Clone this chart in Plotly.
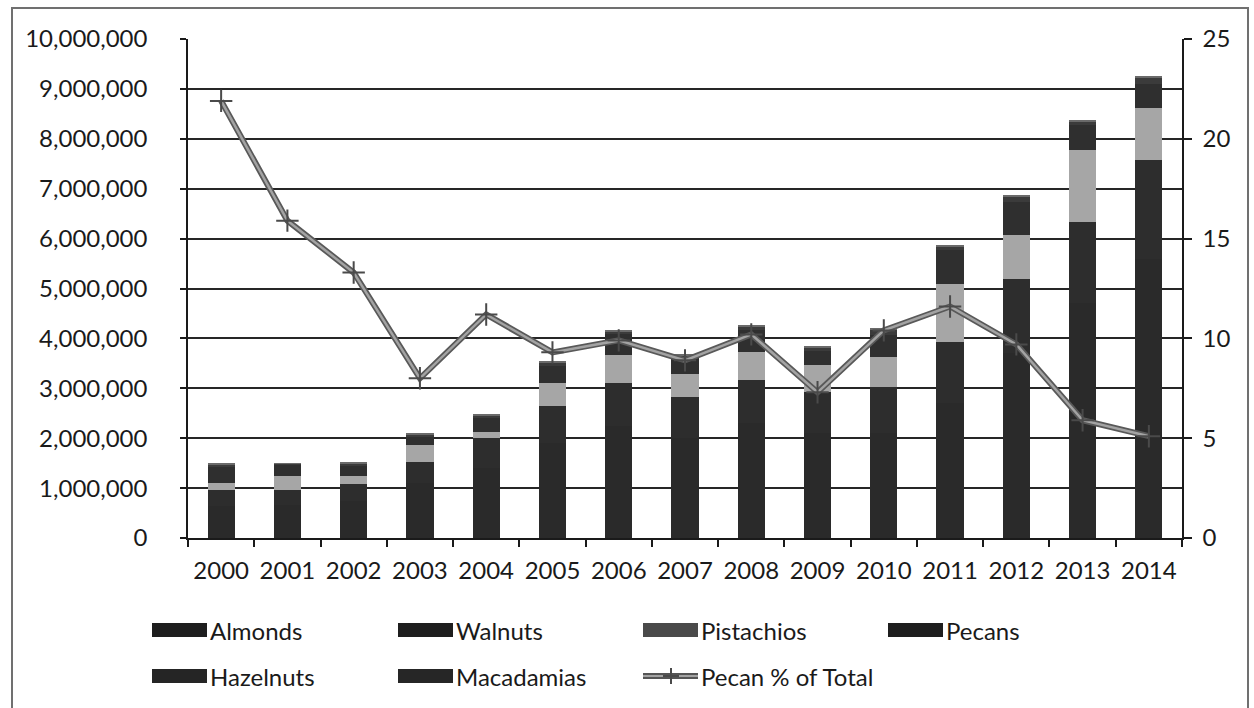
import plotly.graph_objects as go

# Annual production by nut type (stacked columns) and pecan share of total (line)
years = ["2000", "2001", "2002", "2003", "2004", "2005", "2006", "2007",
         "2008", "2009", "2010", "2011", "2012", "2013", "2014"]

almonds = [640000, 660000, 740000, 1100000, 1400000, 1900000, 2250000, 2000000,
           2300000, 2100000, 2100000, 2700000, 3700000, 4700000, 5600000]
walnuts = [320000, 300000, 340000, 420000, 600000, 750000, 850000, 830000,
           870000, 830000, 930000, 1230000, 1500000, 1640000, 1970000]
pistachios = [140000, 280000, 160000, 340000, 120000, 460000, 570000, 450000,
              560000, 540000, 600000, 1170000, 870000, 1440000, 1050000]
pecans = [328000, 238000, 200000, 168000, 278000, 328000, 413000, 328000,
          436000, 281000, 437000, 681000, 666000, 493000, 472000]
hazelnuts = [52000, 14000, 50000, 50000, 60000, 70000, 65000, 50000,
             80000, 75000, 110000, 66000, 110000, 65000, 140000]
macadamias = [20000, 8000, 20000, 22000, 22000, 22000, 22000, 22000,
              24000, 24000, 23000, 23000, 24000, 22000, 28000]

pecan_pct = [21.9, 15.9, 13.3, 8.0, 11.2, 9.3, 9.9, 8.9,
             10.2, 7.3, 10.4, 11.6, 9.7, 5.9, 5.1]

series = [
    ("Almonds", almonds, "#2a2a2a", "#1e1e1e"),
    ("Walnuts", walnuts, "#2d2d2d", "#1e1e1e"),
    ("Pistachios", pistachios, "#a6a6a6", "#4a4a4a"),
    ("Pecans", pecans, "#2f2f2f", "#1e1e1e"),
    ("Hazelnuts", hazelnuts, "#3b3b3b", "#252525"),
    ("Macadamias", macadamias, "#6a6a6a", "#262626"),
]

FONT = "Lato"
TXT = "#1a1a1a"
FS = 24

fig = go.Figure()
for name, vals, col, _ in series:
    fig.add_trace(go.Bar(x=years, y=vals, name=name, marker_color=col,
                         marker_line_width=0, showlegend=False))

# pecan share: dark casing under a lighter core, with cross markers
fig.add_trace(go.Scatter(x=years, y=pecan_pct, yaxis="y2", mode="lines",
                         line=dict(color="#595959", width=6), showlegend=False))
fig.add_trace(go.Scatter(x=years, y=pecan_pct, yaxis="y2", mode="lines+markers",
                         line=dict(color="#a3a3a3", width=2.5),
                         marker=dict(symbol="cross-thin", size=16,
                                     line=dict(color="#4a4a4a", width=2)),
                         name="Pecan % of Total", showlegend=False))

W, H = 1254, 708
L, R, T, B = 188, 72, 39, 170
PW, PH = W - L - R, H - T - B


def px(x):
    return (x - L) / PW


def py(y):
    return (H - B - y) / PH


shapes = []
annotations = []

# outer chart frame
shapes.append(dict(type="rect", xref="paper", yref="paper",
                   x0=px(12), x1=px(1248), y0=py(740), y1=py(8),
                   line=dict(color="#707070", width=2), layer="below"))

# legend laid out as two rows of four columns
cols_x = [152, 398, 643, 888]
rows_y = [630, 676]
entries = [
    (0, 0, "Almonds", series[0][3]),
    (0, 1, "Walnuts", series[1][3]),
    (0, 2, "Pistachios", series[2][3]),
    (0, 3, "Pecans", series[3][3]),
    (1, 0, "Hazelnuts", series[4][3]),
    (1, 1, "Macadamias", series[5][3]),
]
for r, c, label, col in entries:
    x0 = cols_x[c]
    yc = rows_y[r]
    shapes.append(dict(type="rect", xref="paper", yref="paper",
                       x0=px(x0), x1=px(x0 + 55), y0=py(yc + 7), y1=py(yc - 7),
                       fillcolor=col, line=dict(width=0)))
    annotations.append(dict(x=px(x0 + 56), y=py(yc), xref="paper", yref="paper",
                            text=label, showarrow=False, xanchor="left",
                            yanchor="middle",
                            font=dict(family=FONT, size=FS, color=TXT)))

# line entry in legend
lx, ly = cols_x[2], rows_y[1]
shapes.append(dict(type="line", xref="paper", yref="paper",
                   x0=px(lx), x1=px(lx + 55), y0=py(ly), y1=py(ly),
                   line=dict(color="#555555", width=6)))
shapes.append(dict(type="line", xref="paper", yref="paper",
                   x0=px(lx), x1=px(lx + 55), y0=py(ly), y1=py(ly),
                   line=dict(color="#a3a3a3", width=2)))
shapes.append(dict(type="line", xref="paper", yref="paper",
                   x0=px(lx + 20), x1=px(lx + 36), y0=py(ly), y1=py(ly),
                   line=dict(color="#4a4a4a", width=2)))
shapes.append(dict(type="line", xref="paper", yref="paper",
                   x0=px(lx + 28), x1=px(lx + 28), y0=py(ly + 8), y1=py(ly - 8),
                   line=dict(color="#4a4a4a", width=2)))
annotations.append(dict(x=px(lx + 56), y=py(ly), xref="paper", yref="paper",
                        text="Pecan % of Total", showarrow=False, xanchor="left",
                        yanchor="middle",
                        font=dict(family=FONT, size=FS, color=TXT)))

fig.update_layout(
    width=W, height=H,
    margin=dict(l=L, r=R, t=T, b=B, pad=0),
    barmode="stack",
    bargap=0.59,
    paper_bgcolor="white",
    plot_bgcolor="white",
    font=dict(family=FONT, size=FS, color=TXT),
    showlegend=False,
    shapes=shapes,
    annotations=annotations,
    xaxis=dict(type="category", range=[-0.5, len(years) - 0.5],
               tickson="boundaries", ticks="outside",
               ticklen=7, tickwidth=1.5, tickcolor="#1a1a1a",
               showline=True, linecolor="#1a1a1a", linewidth=1.5,
               showgrid=False, ticklabelstandoff=10,
               tickfont=dict(family=FONT, size=FS, color=TXT)),
    yaxis=dict(range=[0, 10000000], dtick=1000000, tickformat=",",
               showgrid=True, gridcolor="#262626", gridwidth=1.5,
               ticks="outside", ticklen=6, tickwidth=1.5, tickcolor="#1a1a1a",
               showline=True, linecolor="#1a1a1a", linewidth=1.5,
               zeroline=False, ticklabelstandoff=28,
               tickfont=dict(family=FONT, size=FS, color=TXT)),
    yaxis2=dict(range=[0, 25], dtick=5, overlaying="y", side="right",
                showgrid=False, zeroline=False,
                ticks="outside", ticklen=8, tickwidth=1.5, tickcolor="#1a1a1a",
                showline=True, linecolor="#1a1a1a", linewidth=1.5,
                ticklabelstandoff=6,
                tickfont=dict(family=FONT, size=FS, color=TXT)),
)

fig.write_html("out.html")
